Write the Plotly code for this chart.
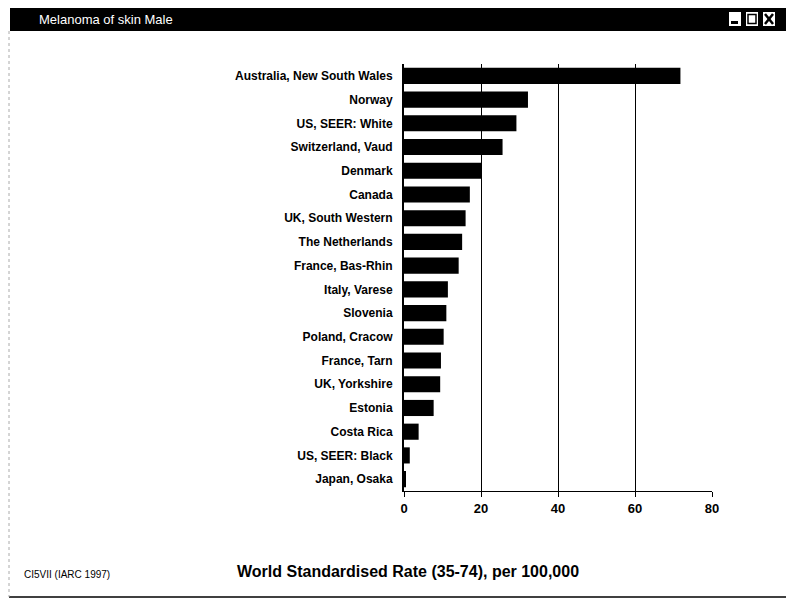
import plotly.graph_objects as go

# Melanoma of skin, male - CI5VII
registries = [
    "Australia, New South Wales", "Norway", "US, SEER: White", "Switzerland, Vaud",
    "Denmark", "Canada", "UK, South Western", "The Netherlands", "France, Bas-Rhin",
    "Italy, Varese", "Slovenia", "Poland, Cracow", "France, Tarn", "UK, Yorkshire",
    "Estonia", "Costa Rica", "US, SEER: Black", "Japan, Osaka",
]
rates = [71.8, 32.2, 29.2, 25.6, 20.0, 17.1, 16.0, 15.1, 14.2,
         11.4, 11.0, 10.3, 9.6, 9.4, 7.7, 3.8, 1.5, 0.4]
x_ticks = [0, 20, 40, 60, 80]

# page body has an 8px margin, so the figure is drawn 8px smaller
OFF = 8
W, H = 794 - OFF, 601 - OFF
L, R, T, B = 404 - OFF, 82, 64 - OFF, 110
PW, PH = W - L - R, H - T - B


def px(x):
    # x in screen pixels -> paper coords
    return (x - OFF - L) / PW


def py(y):
    return 1 - (y - OFF - T) / PH


FONT = "Liberation Sans, Arial, sans-serif"

fig = go.Figure(
    go.Bar(
        x=rates,
        y=registries,
        orientation="h",
        marker=dict(color="black", line=dict(width=0)),
        width=0.68,
    )
)

shapes = [
    # title bar
    dict(type="rect", xref="paper", yref="paper", x0=px(10), x1=px(790), y0=py(7), y1=py(31),
         fillcolor="black", line=dict(width=0), layer="above"),
    # window frame
    dict(type="line", xref="paper", yref="paper", x0=px(790), x1=px(790), y0=py(31), y1=py(597),
         line=dict(color="black", width=1.5)),
    dict(type="line", xref="paper", yref="paper", x0=px(9), x1=px(790), y0=py(597), y1=py(597),
         line=dict(color="black", width=1.5)),
    dict(type="line", xref="paper", yref="paper", x0=px(9), x1=px(9), y0=py(31), y1=py(597),
         line=dict(color="#aaa", width=1, dash="dot")),
    # buttons
    dict(type="rect", xref="paper", yref="paper", x0=px(729), x1=px(741), y0=py(12), y1=py(26),
         fillcolor="white", line=dict(width=0), layer="above"),
    dict(type="rect", xref="paper", yref="paper", x0=px(731), x1=px(738), y0=py(21), y1=py(24),
         fillcolor="black", line=dict(width=0), layer="above"),
    dict(type="rect", xref="paper", yref="paper", x0=px(746), x1=px(758), y0=py(12), y1=py(26),
         fillcolor="white", line=dict(width=0), layer="above"),
    dict(type="rect", xref="paper", yref="paper", x0=px(748), x1=px(756), y0=py(14.5), y1=py(23.5),
         fillcolor="white", line=dict(color="black", width=1.5), layer="above"),
    dict(type="rect", xref="paper", yref="paper", x0=px(763), x1=px(775), y0=py(12), y1=py(26),
         fillcolor="white", line=dict(width=0), layer="above"),
    dict(type="line", xref="paper", yref="paper", x0=px(765), x1=px(773), y0=py(14), y1=py(24),
         line=dict(color="black", width=2.5), layer="above"),
    dict(type="line", xref="paper", yref="paper", x0=px(765), x1=px(773), y0=py(24), y1=py(14),
         line=dict(color="black", width=2.5), layer="above"),
]

annotations = [
    dict(text="Melanoma of skin Male", xref="paper", yref="paper", x=px(37), y=py(19),
         xanchor="left", yanchor="middle", showarrow=False,
         font=dict(family=FONT, size=13, color="white")),
    dict(text="<b>World Standardised Rate (35-74), per 100,000</b>", xref="paper", yref="paper",
         x=px(408), y=py(571), xanchor="center", yanchor="middle", showarrow=False,
         font=dict(family=FONT, size=16, color="black")),
    dict(text="CI5VII (IARC 1997)", xref="paper", yref="paper", x=px(22), y=py(574),
         xanchor="left", yanchor="middle", showarrow=False,
         font=dict(family=FONT, size=10, color="black")),
]

fig.update_layout(
    width=W,
    height=H,
    margin=dict(l=L, r=R, t=T, b=B),
    paper_bgcolor="white",
    plot_bgcolor="white",
    showlegend=False,
    font=dict(family=FONT, size=12, color="black"),
    shapes=shapes,
    annotations=annotations,
    xaxis=dict(
        range=[0, 80],
        tickvals=x_ticks,
        ticktext=[f"<b>{v}</b>" for v in x_ticks],
        showgrid=True,
        gridcolor="black",
        gridwidth=1,
        zeroline=False,
        showline=True,
        linecolor="black",
        linewidth=1,
        ticks="outside",
        ticklen=5,
        tickcolor="black",
        tickfont=dict(family=FONT, size=13, color="black"),
    ),
    yaxis=dict(
        autorange="reversed",
        showline=True,
        linecolor="black",
        linewidth=2,
        ticks="",
        ticklabelstandoff=7,
        tickprefix="<b>",
        ticksuffix="</b>",
        tickfont=dict(family=FONT, size=12, color="black"),
        showgrid=False,
    ),
)

fig.write_html("out.html")
